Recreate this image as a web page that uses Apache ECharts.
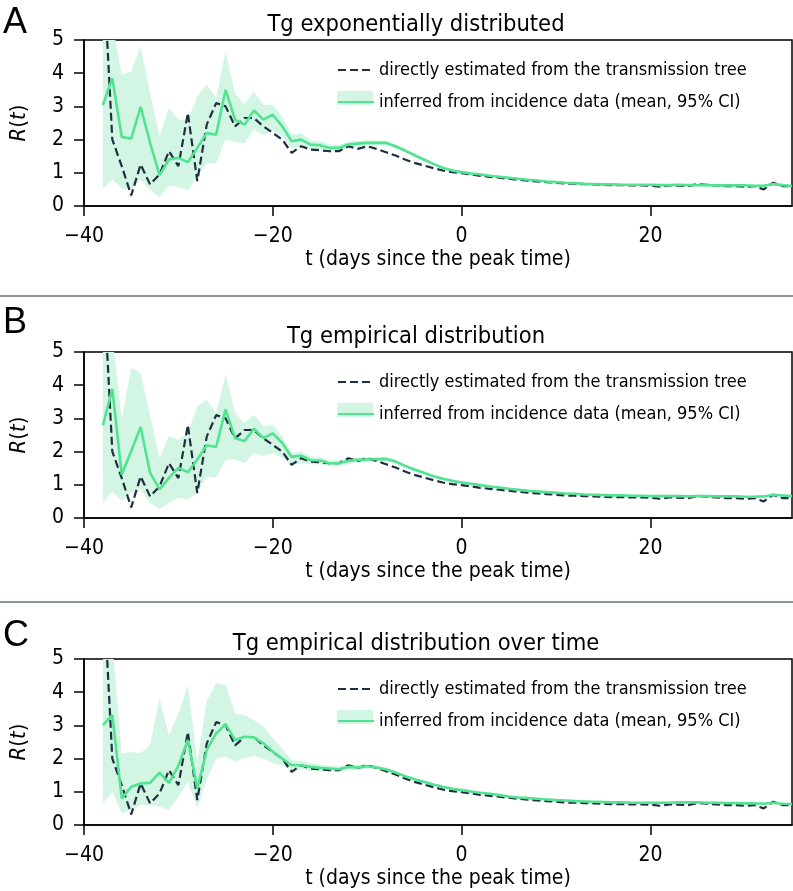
<!DOCTYPE html>
<html><head><meta charset="utf-8">
<script src="https://cdn.jsdelivr.net/npm/echarts@6/dist/echarts.min.js"></script>
<style>html,body{margin:0;padding:0;background:#fff}#c{width:793px;height:891px}</style>
</head><body><div id="c"></div>
<script>
// ---------- data ----------
const days = [-38,-37,-36,-35,-34,-33,-32,-31,-30,-29,-28,-27,-26,-25,-24,-23,-22,-21,-20,-19,-18,-17,-16,-15,-14,-13,-12,-11,-10,-9,-8,-7,-6,-5,-4,-3,-2,-1,0,1,2,3,4,5,6,7,8,9,10,11,12,13,14,15,16,17,18,19,20,21,22,23,24,25,26,27,28,29,30,31,32,33,34,35];

// directly estimated from the transmission tree (same in all panels)
const direct = [7.5,2.0,1.2,0.32,1.25,0.65,0.95,1.65,1.2,2.8,0.75,2.45,3.1,3.0,2.4,2.65,2.65,2.4,2.2,2.0,1.6,1.8,1.7,1.68,1.65,1.65,1.8,1.72,1.8,1.72,1.62,1.52,1.4,1.3,1.22,1.14,1.07,1.02,0.99,0.95,0.91,0.88,0.85,0.82,0.79,0.76,0.74,0.72,0.7,0.68,0.67,0.66,0.65,0.64,0.63,0.63,0.62,0.62,0.61,0.58,0.62,0.61,0.6,0.66,0.64,0.62,0.6,0.6,0.58,0.6,0.5,0.7,0.6,0.6];

// Panel A: Tg exponentially distributed
const meanA = [3.04,3.85,2.08,2.03,2.99,1.9,0.93,1.4,1.45,1.32,1.75,2.2,2.15,3.5,2.6,2.45,2.88,2.6,2.75,2.4,1.95,2.0,1.85,1.83,1.75,1.75,1.85,1.88,1.9,1.9,1.9,1.8,1.67,1.53,1.4,1.27,1.15,1.07,1.02,0.98,0.95,0.91,0.88,0.85,0.82,0.79,0.77,0.74,0.72,0.7,0.69,0.67,0.66,0.65,0.65,0.64,0.64,0.64,0.64,0.63,0.63,0.64,0.63,0.63,0.63,0.62,0.62,0.62,0.62,0.61,0.61,0.66,0.63,0.6];
const lowA  = [0.52,0.8,0.52,0.5,0.78,0.5,0.27,0.62,0.57,0.47,0.88,1.28,1.28,2.0,1.93,1.88,2.33,2.13,2.28,2.08,1.75,1.8,1.72,1.72,1.66,1.66,1.76,1.8,1.82,1.83,1.83,1.74,1.62,1.48,1.36,1.23,1.11,1.03,0.98,0.94,0.91,0.87,0.84,0.81,0.78,0.76,0.74,0.71,0.69,0.67,0.66,0.64,0.63,0.62,0.62,0.61,0.61,0.61,0.61,0.6,0.6,0.61,0.6,0.6,0.6,0.59,0.59,0.59,0.59,0.58,0.58,0.62,0.6,0.57];
const highA = [6.0,5.5,3.95,4.05,4.8,3.4,2.1,2.95,2.6,2.6,3.3,3.65,3.25,4.65,3.4,3.05,3.45,3.05,3.05,2.7,2.15,2.2,1.98,1.95,1.85,1.84,1.94,1.96,1.98,1.97,1.97,1.86,1.72,1.58,1.44,1.31,1.19,1.11,1.06,1.02,0.99,0.95,0.92,0.89,0.86,0.82,0.8,0.77,0.75,0.73,0.72,0.7,0.69,0.68,0.68,0.67,0.67,0.67,0.67,0.66,0.66,0.67,0.66,0.66,0.66,0.65,0.65,0.65,0.65,0.64,0.64,0.7,0.66,0.63];

// Panel B: Tg empirical distribution
const meanB = [2.79,3.89,1.31,2.02,2.74,1.36,0.86,1.21,1.51,1.38,1.76,2.19,2.14,3.27,2.41,2.31,2.69,2.41,2.55,2.26,1.84,1.88,1.74,1.73,1.65,1.65,1.72,1.75,1.76,1.77,1.78,1.7,1.57,1.46,1.36,1.26,1.18,1.12,1.07,1.03,0.99,0.95,0.92,0.88,0.85,0.82,0.8,0.78,0.76,0.74,0.73,0.71,0.7,0.69,0.68,0.68,0.67,0.67,0.66,0.66,0.66,0.66,0.65,0.66,0.66,0.65,0.65,0.65,0.64,0.64,0.65,0.7,0.68,0.66];
const lowB  = [0.46,0.8,0.51,0.76,0.86,0.46,0.26,0.46,0.61,0.56,0.76,1.26,1.21,1.76,1.76,1.66,1.96,1.86,1.96,1.81,1.6,1.65,1.62,1.62,1.56,1.56,1.63,1.67,1.68,1.7,1.71,1.64,1.52,1.41,1.32,1.22,1.14,1.08,1.03,0.99,0.96,0.92,0.89,0.85,0.82,0.79,0.77,0.75,0.73,0.71,0.7,0.68,0.67,0.66,0.65,0.65,0.64,0.64,0.63,0.63,0.63,0.63,0.62,0.63,0.63,0.62,0.62,0.62,0.61,0.61,0.62,0.66,0.65,0.63];
const highB = [6.0,5.5,3.0,4.52,4.37,3.1,1.81,2.46,2.36,2.56,3.36,3.56,3.16,4.32,3.16,2.86,3.11,2.76,2.81,2.46,1.96,2.0,1.86,1.84,1.74,1.74,1.81,1.83,1.84,1.84,1.85,1.76,1.62,1.51,1.4,1.3,1.22,1.16,1.11,1.07,1.02,0.98,0.95,0.91,0.88,0.85,0.83,0.81,0.79,0.77,0.76,0.74,0.73,0.72,0.71,0.71,0.7,0.7,0.69,0.69,0.69,0.69,0.68,0.69,0.69,0.68,0.68,0.68,0.67,0.67,0.68,0.74,0.71,0.69];

// Panel C: Tg empirical distribution over time
const meanC = [3.01,3.31,0.8,1.15,1.25,1.27,1.58,1.27,1.78,2.56,1.1,2.26,2.76,3.04,2.56,2.66,2.64,2.46,2.21,2.0,1.8,1.8,1.75,1.72,1.7,1.68,1.75,1.73,1.77,1.73,1.67,1.58,1.47,1.38,1.3,1.22,1.15,1.09,1.05,1.01,0.97,0.94,0.9,0.86,0.83,0.81,0.79,0.77,0.75,0.74,0.72,0.71,0.7,0.69,0.68,0.68,0.67,0.67,0.67,0.67,0.67,0.68,0.68,0.68,0.67,0.67,0.66,0.66,0.65,0.65,0.64,0.67,0.64,0.63];
const lowC  = [0.65,1.0,0.35,0.45,0.6,0.6,0.55,0.45,0.85,1.31,0.5,1.36,2.0,2.06,1.91,2.01,2.08,2.0,1.85,1.8,1.65,1.67,1.64,1.62,1.61,1.6,1.67,1.66,1.7,1.67,1.61,1.53,1.43,1.34,1.26,1.18,1.11,1.06,1.02,0.98,0.94,0.91,0.87,0.83,0.8,0.78,0.76,0.74,0.72,0.71,0.69,0.68,0.67,0.66,0.65,0.65,0.64,0.64,0.64,0.64,0.64,0.65,0.65,0.65,0.64,0.64,0.63,0.63,0.62,0.62,0.61,0.64,0.61,0.6];
const highC = [6.0,5.5,2.16,2.2,2.16,2.41,3.82,2.71,3.36,4.21,1.9,3.72,4.27,4.22,3.36,3.31,3.16,2.96,2.61,2.3,1.95,1.93,1.86,1.82,1.79,1.76,1.83,1.8,1.84,1.79,1.73,1.63,1.51,1.42,1.34,1.26,1.19,1.12,1.08,1.04,1.0,0.97,0.93,0.89,0.86,0.84,0.82,0.8,0.78,0.77,0.75,0.74,0.73,0.72,0.71,0.71,0.7,0.7,0.7,0.7,0.7,0.71,0.71,0.71,0.7,0.7,0.69,0.69,0.68,0.68,0.67,0.7,0.67,0.66];

const panelTitles = ['Tg exponentially distributed', 'Tg empirical distribution', 'Tg empirical distribution over time'];
const panelLetters = ['A', 'B', 'C'];
const xTicks = [-40, -20, 0, 20];
const nameDirect = 'directly estimated from the transmission tree';
const nameInferred = 'inferred from incidence data (mean, 95% CI)';
const xAxisName = 't (days since the peak time)';

// ---------- styles ----------
const FONT = "'DejaVu Sans Condensed', 'Liberation Sans Narrow', 'Roboto', sans-serif";
const GREEN = '#52e392';
const BAND = '#d3f6e4';
const DARK = '#1f2e40';
const tops = [40, 352, 659];
const letterTops = [5.5, 305.5, 618.5];
const plotH = 166;

const panels = [
  {mean: meanA, low: lowA, high: highA},
  {mean: meanB, low: lowB, high: highB},
  {mean: meanC, low: lowC, high: highC}
];
const zip = (xs, ys) => xs.map((x, i) => [x, ys[i]]);
const fmt = v => String(v).replace('-', '\u2212');

function bandRenderer(low, high) {
  return function (params, api) {
    if (params.dataIndex !== 0) return null;
    const pts = [];
    for (let i = 0; i < days.length; i++) pts.push(api.coord([days[i], low[i]]));
    for (let i = days.length - 1; i >= 0; i--) pts.push(api.coord([days[i], high[i]]));
    const cs = params.coordSys;
    return {
      type: 'polygon', shape: {points: pts},
      style: {fill: BAND, stroke: null},
      clipPath: {type: 'rect', shape: {x: cs.x, y: cs.y, width: cs.width, height: cs.height}}
    };
  };
}

const grid = [], xAxis = [], yAxis = [], series = [], title = [], legend = [], graphic = [];
panels.forEach((p, k) => {
  grid.push({left: 77, right: 1, top: tops[k], height: plotH, show: true, borderColor: '#000', borderWidth: 1.5, backgroundColor: 'transparent'});
  xAxis.push({
    type: 'value', gridIndex: k, min: -40, max: 35, interval: 20, z: 10,
    axisLine: {show: true, onZero: false, lineStyle: {color: '#000', width: 1.5}},
    axisTick: {show: true, length: 10, customValues: xTicks, lineStyle: {color: '#000', width: 1.5}},
    axisLabel: {customValues: xTicks, formatter: fmt, color: '#000', fontSize: 21, fontFamily: FONT, margin: 20},
    splitLine: {show: false},
    name: xAxisName, nameLocation: 'middle', nameGap: 43,
    nameTextStyle: {color: '#000', fontSize: 21, fontFamily: FONT}
  });
  yAxis.push({
    type: 'value', gridIndex: k, min: 0, max: 5, interval: 1, z: 10,
    axisLine: {show: true, onZero: false, lineStyle: {color: '#000', width: 1.5}},
    axisTick: {show: true, length: 10, lineStyle: {color: '#000', width: 1.5}},
    axisLabel: {color: '#000', fontSize: 21, fontFamily: FONT, margin: 20},
    splitLine: {show: false},
    name: '{i|R}({i|t})', nameLocation: 'middle', nameGap: 54,
    nameTextStyle: {color: '#000', fontSize: 22, fontFamily: FONT,
      rich: {i: {fontStyle: 'italic', fontSize: 22, fontFamily: FONT, color: '#000'}}}
  });
  series.push({
    name: 'ci-band-' + k, type: 'custom', xAxisIndex: k, yAxisIndex: k,
    data: days.map((d, i) => [d, p.low[i], p.high[i]]),
    encode: {x: 0, y: [1, 2]},
    renderItem: bandRenderer(p.low, p.high), silent: true, z: 1
  });
  series.push({
    name: nameDirect, type: 'line', xAxisIndex: k, yAxisIndex: k,
    data: zip(days, direct), symbol: 'none', color: DARK,
    lineStyle: {color: DARK, width: 2.2, type: [8, 4]}, z: 3
  });
  series.push({
    name: nameInferred, type: 'line', xAxisIndex: k, yAxisIndex: k,
    data: zip(days, p.mean), symbol: 'none', color: GREEN,
    lineStyle: {color: GREEN, width: 2.6}, z: 4
  });
  title.push({
    text: panelTitles[k], left: 411, top: tops[k] - 32, textAlign: 'center',
    textStyle: {color: '#000', fontSize: 23.5, fontWeight: 'normal', fontFamily: FONT}
  });
  legend.push({
    data: [nameDirect, nameInferred], orient: 'vertical', left: 332, top: tops[k] + 14,
    itemWidth: 36, itemHeight: 14, itemGap: 10, selectedMode: false,
    itemStyle: {opacity: 0},
    textStyle: {color: '#000', fontSize: 18, fontFamily: FONT, lineHeight: 22}, z: 5
  });
  graphic.push({
    type: 'rect', left: 337, top: tops[k] + 51, shape: {width: 36, height: 14},
    style: {fill: BAND}, z: 1, silent: true
  });
  graphic.push({
    type: 'text', left: 3, top: letterTops[k],
    style: {text: panelLetters[k], fill: '#000', font: "36px 'Liberation Sans', Arial, sans-serif"}, silent: true
  });
});
graphic.push({type: 'line', shape: {x1: 0, y1: 296, x2: 793, y2: 296}, style: {stroke: '#8a9898', lineWidth: 2}, silent: true});
graphic.push({type: 'line', shape: {x1: 0, y1: 602, x2: 793, y2: 602}, style: {stroke: '#8a9898', lineWidth: 2}, silent: true});

const chart = echarts.init(document.getElementById('c'), null, {renderer: 'canvas'});
chart.setOption({
  animation: false, backgroundColor: '#fff',
  grid, xAxis, yAxis, series, title, legend, graphic
});
</script></body></html>
